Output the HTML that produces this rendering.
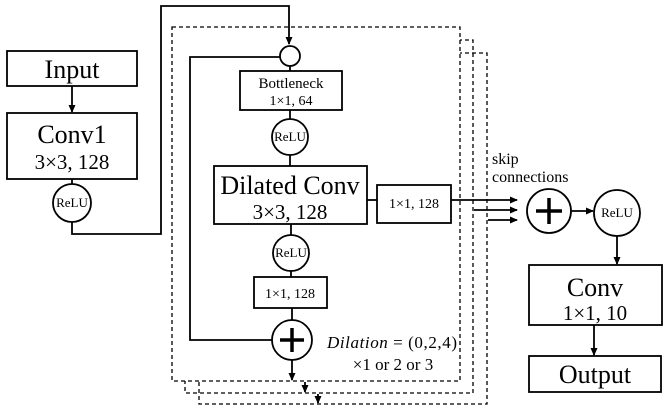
<!DOCTYPE html>
<html><head><meta charset="utf-8"><style>
body{margin:0;background:#fff;}
svg text{font-family:"Liberation Serif","DejaVu Serif",serif;fill:#000;}
</style></head><body>
<svg width="664" height="413" viewBox="0 0 664 413" xmlns="http://www.w3.org/2000/svg">
<defs><marker id="a" markerWidth="8" markerHeight="8" refX="7" refY="4" orient="auto" markerUnits="userSpaceOnUse"><path d="M0,0.5 L8,4 L0,7.5z" fill="#000"/></marker></defs>
<g fill="none" stroke="#000" stroke-width="1.3" stroke-dasharray="4,3">
<rect x="199" y="53" width="288" height="351"/>
<rect x="185" y="40" width="288" height="353"/>
<rect x="172" y="27" width="288" height="354" fill="#fff"/>
</g>
<g fill="none" stroke="#000" stroke-width="1.8">
<rect x="7" y="51" width="130" height="35" fill="#fff"/>
<rect x="7" y="113" width="130" height="66" fill="#fff"/>
<line x1="72" y1="86" x2="72" y2="112" marker-end="url(#a)"/>
<line x1="72" y1="179" x2="72" y2="184"/>
<circle cx="72" cy="203" r="19" fill="#fff"/>
<polyline points="72,222 72,234 161,234 161,6 289,6 289,44" marker-end="url(#a)"/>
<circle cx="290" cy="56" r="10" fill="#fff"/>
<polyline points="280,57 190,57 190,340 272,340"/>
<line x1="290" y1="66" x2="290" y2="71"/>
<rect x="240" y="71" width="102" height="39" fill="#fff"/>
<line x1="290" y1="110" x2="290" y2="119"/>
<circle cx="290" cy="137" r="18" fill="#fff"/>
<line x1="290" y1="155" x2="290" y2="166"/>
<rect x="214" y="166" width="153" height="58" fill="#fff"/>
<line x1="291" y1="224" x2="291" y2="235"/>
<circle cx="291" cy="253" r="18" fill="#fff"/>
<line x1="291" y1="271" x2="291" y2="277"/>
<rect x="254" y="277" width="73" height="31" fill="#fff"/>
<line x1="292" y1="308" x2="292" y2="320"/>
<circle cx="292" cy="340" r="20" fill="#fff"/>
<line x1="292" y1="360" x2="292" y2="380" marker-end="url(#a)"/>
<line x1="305" y1="382" x2="305" y2="392" marker-end="url(#a)"/>
<line x1="318" y1="394" x2="318" y2="403" marker-end="url(#a)"/>
<line x1="367" y1="200" x2="377" y2="200"/>
<rect x="377" y="185" width="74" height="38" fill="#fff"/>
<line x1="451" y1="200" x2="517" y2="200" marker-end="url(#a)"/>
<line x1="474" y1="210" x2="517" y2="210" marker-end="url(#a)"/>
<line x1="488" y1="220" x2="517" y2="220" marker-end="url(#a)"/>
<circle cx="549" cy="211" r="22" fill="#fff"/>
<line x1="571" y1="211" x2="593" y2="211" marker-end="url(#a)"/>
<circle cx="617" cy="213" r="23" fill="#fff"/>
<line x1="617" y1="236" x2="617" y2="264" marker-end="url(#a)"/>
<rect x="529" y="265" width="133" height="60" fill="#fff"/>
<line x1="594" y1="325" x2="594" y2="355" marker-end="url(#a)"/>
<rect x="529" y="356" width="132" height="36" fill="#fff"/>
</g>
<g stroke="#000" stroke-width="3.5">
<line x1="280" y1="340" x2="304" y2="340"/><line x1="292" y1="328" x2="292" y2="352"/>
<line x1="536" y1="211" x2="562" y2="211"/><line x1="549" y1="198" x2="549" y2="224"/>
</g>
<g text-anchor="middle">
<text x="72" y="78" font-size="26">Input</text>
<text x="72" y="143" font-size="26">Conv1</text>
<text x="72" y="169" font-size="21">3×3, 128</text>
<text x="72" y="207" font-size="13">ReLU</text>
<text x="291" y="88" font-size="15">Bottleneck</text>
<text x="291" y="105" font-size="14">1×1, 64</text>
<text x="290" y="141" font-size="13">ReLU</text>
<text x="290" y="194" font-size="26">Dilated Conv</text>
<text x="290" y="219" font-size="21">3×3, 128</text>
<text x="291" y="257" font-size="13">ReLU</text>
<text x="290" y="298" font-size="14">1×1, 128</text>
<text x="414" y="208" font-size="14">1×1, 128</text>
<text x="617" y="217" font-size="13">ReLU</text>
<text x="595" y="296" font-size="26">Conv</text>
<text x="595" y="320" font-size="21">1×1, 10</text>
<text x="595" y="383" font-size="26">Output</text>
<text x="393" y="370" font-size="17">×1 or 2 or 3</text>
</g>
<text x="327" y="348" font-size="17" textLength="130"><tspan font-style="italic">Dilation</tspan> = (0,2,4)</text>
<text x="492" y="164" font-size="16">skip</text>
<text x="492" y="182" font-size="16">connections</text>
</svg>
</body></html>
